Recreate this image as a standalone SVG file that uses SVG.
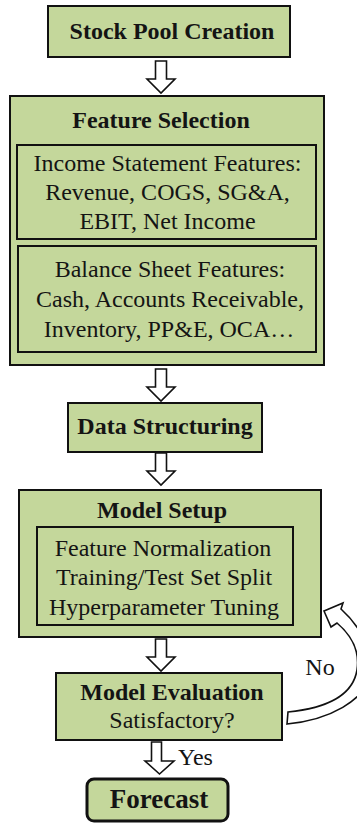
<svg xmlns="http://www.w3.org/2000/svg" width="357" height="825" viewBox="0 0 357 825">
<style>
.box{fill:#c4d79b;stroke:#111;stroke-width:2}
.inner{fill:#c4d79b;stroke:#111;stroke-width:2}
.t{font-family:"Liberation Serif","Times New Roman",serif;font-size:24px;fill:#141414;text-anchor:middle}
.b{font-weight:bold}
.arr{fill:#fff;stroke:#111;stroke-width:1.6;stroke-linejoin:miter}
</style>
<defs>
<path id="down" d="M -5.5 0 H 5.5 V 18 H 14 L 0 32 L -14 18 H -5.5 Z"/>
</defs>
<rect width="357" height="825" fill="#fff"/>
<g id="connectors">
<use href="#down" class="arr" x="161" y="61"/>
<use href="#down" class="arr" x="161" y="369"/>
<use href="#down" class="arr" x="161" y="453"/>
<use href="#down" class="arr" x="161" y="639"/>
<path class="arr" d="M 151.5 742 H 161.5 V 761 H 174 L 159.5 774 L 145 761 H 151.5 Z"/>
<path class="arr" d="M 324 611 L 343 603 L 341 609 C 362 628 375 655 370 675 C 365 700 330 720 287 724 L 288 712 C 328 708 353 695 357 670 C 360 650 350 634 337 623 L 331 627 Z"/>
<text class="t" x="320" y="675">No</text>
<text class="t" x="178" y="765" style="text-anchor:start">Yes</text>
</g>
<g id="stock-pool">
<rect class="box" x="48" y="6" width="242" height="51"/>
<text class="t b" x="172" y="39">Stock Pool Creation</text>
</g>
<g id="feature-selection">
<rect class="box" x="10" y="96" width="314" height="269"/>
<text class="t b" x="161" y="128">Feature Selection</text>
<g id="income-statement">
<rect class="inner" x="17" y="145" width="299" height="94"/>
<text class="t" x="167.5" y="171">Income Statement Features:</text>
<text class="t" x="167.5" y="200">Revenue, COGS, SG&amp;A,</text>
<text class="t" x="167.5" y="229">EBIT, Net Income</text>
</g>
<g id="balance-sheet">
<rect class="inner" x="18" y="246" width="298" height="106"/>
<text class="t" x="170" y="277">Balance Sheet Features:</text>
<text class="t" x="170" y="307">Cash, Accounts Receivable,</text>
<text class="t" x="169" y="337">Inventory, PP&amp;E, OCA…</text>
</g>
</g>
<g id="data-structuring">
<rect class="box" x="68" y="403" width="194" height="49"/>
<text class="t b" x="165" y="434">Data Structuring</text>
</g>
<g id="model-setup">
<rect class="box" x="19" y="490" width="302" height="147"/>
<text class="t b" x="162" y="518">Model Setup</text>
<rect class="inner" x="37" y="527" width="256" height="98"/>
<text class="t" x="163" y="556">Feature Normalization</text>
<text class="t" x="164" y="585">Training/Test Set Split</text>
<text class="t" x="164" y="615">Hyperparameter Tuning</text>
</g>
<g id="model-evaluation">
<rect class="box" x="56" y="673" width="226" height="67"/>
<text class="t b" x="172" y="700">Model Evaluation</text>
<text class="t" x="172" y="728">Satisfactory?</text>
</g>
<g id="forecast">
<rect class="box" x="87" y="779" width="141" height="42" rx="7" style="stroke-width:3"/>
<text class="t b" x="159" y="808" style="font-size:27px">Forecast</text>
</g>
</svg>
